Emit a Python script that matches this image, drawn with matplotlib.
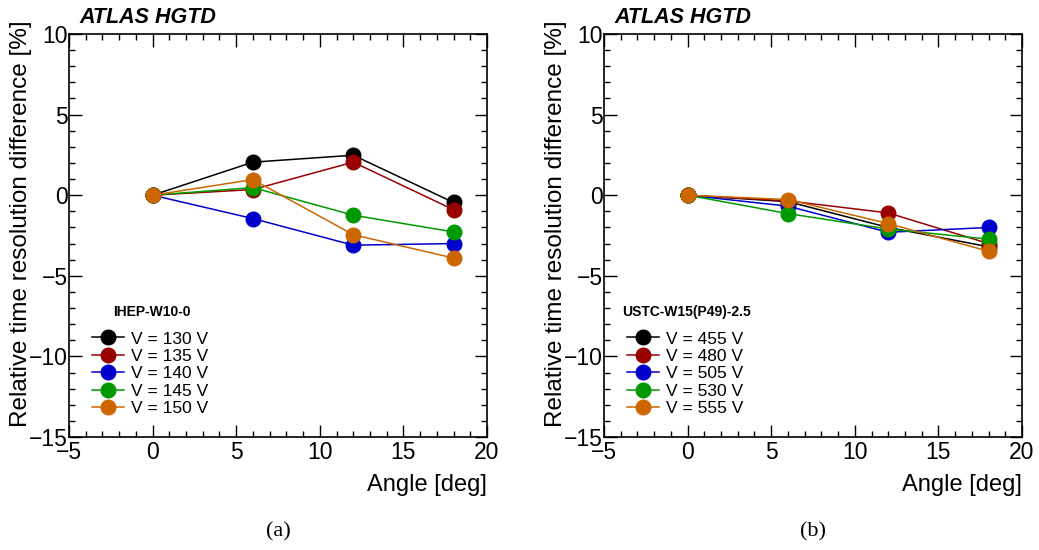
import matplotlib.pyplot as plt
from matplotlib.ticker import MultipleLocator

plt.rcParams['font.family'] = ['Liberation Sans', 'DejaVu Sans']

angles = [0, 6, 12, 18]

ihep_labels = ['V = 130 V', 'V = 135 V', 'V = 140 V', 'V = 145 V', 'V = 150 V']
ihep_130 = [0, 2.05, 2.48, -0.45]
ihep_135 = [0, 0.35, 2.05, -0.9]
ihep_140 = [0, -1.45, -3.1, -3.0]
ihep_145 = [0, 0.47, -1.24, -2.28]
ihep_150 = [0, 0.97, -2.45, -3.9]

ustc_labels = ['V = 455 V', 'V = 480 V', 'V = 505 V', 'V = 530 V', 'V = 555 V']
ustc_455 = [0, -0.4, -2.0, -3.2]
ustc_480 = [0, -0.35, -1.1, -3.0]
ustc_505 = [0, -0.68, -2.3, -2.0]
ustc_530 = [0, -1.14, -2.1, -2.73]
ustc_555 = [0, -0.27, -1.76, -3.48]

colors = ['#000000', '#990000', '#0000cc', '#009900', '#cc6600']


def draw_panel(ax, series, labels, header, tag):
    for ys, lab, c in zip(series, labels, colors):
        ax.plot(angles, ys, '-o', color=c, mfc=c, mec=c, ms=10.5, lw=1.1, label=lab)
    ax.set_xlim(-5, 20)
    ax.set_ylim(-15, 10)
    ax.xaxis.set_major_locator(MultipleLocator(5))
    ax.xaxis.set_minor_locator(MultipleLocator(1))
    ax.yaxis.set_major_locator(MultipleLocator(5))
    ax.yaxis.set_minor_locator(MultipleLocator(1))
    ax.tick_params(which='both', direction='in', top=True, right=True, labelsize=16.5)
    ax.tick_params(axis='x', which='major', pad=3)
    ax.tick_params(axis='y', which='major', pad=1)
    ax.tick_params(which='major', length=9, width=1)
    ax.tick_params(which='minor', length=4.5, width=1)
    for sp in ax.spines.values():
        sp.set_linewidth(1.2)
    ax.set_xlabel('Angle [deg]', fontsize=17, loc='right')
    ax.xaxis.set_label_coords(1.0, -0.093)
    ax.set_ylabel('Relative time resolution difference [%]', fontsize=17.5, loc='top')
    ax.yaxis.set_label_coords(-0.088, 1.035)
    ax.text(0.026, 1.015, 'ATLAS HGTD', transform=ax.transAxes, fontsize=15.5,
            fontweight='bold', fontstyle='italic', va='bottom')
    ax.text(0.198, 0.31, header, transform=ax.transAxes, fontsize=10,
            fontweight='bold', ha='center', va='center')
    ax.legend(loc='upper left', bbox_to_anchor=(0.055, 0.262), frameon=False,
              fontsize=12.5, handlelength=1.85, handletextpad=0.4,
              labelspacing=0.13, borderaxespad=0, borderpad=0)
    ax.text(0.5, -0.235, tag, transform=ax.transAxes, fontsize=16,
            family='Liberation Serif', ha='center', va='center')


fig = plt.figure(figsize=(10.39, 5.5), dpi=100)
ax1 = fig.add_axes([69 / 1039, 1 - 437 / 550, 418 / 1039, 403 / 550])
ax2 = fig.add_axes([604 / 1039, 1 - 437 / 550, 418 / 1039, 403 / 550])

draw_panel(ax1, [ihep_130, ihep_135, ihep_140, ihep_145, ihep_150], ihep_labels,
           'IHEP-W10-0', '(a)')
draw_panel(ax2, [ustc_455, ustc_480, ustc_505, ustc_530, ustc_555], ustc_labels,
           'USTC-W15(P49)-2.5', '(b)')

fig.savefig('out.png', dpi=100)
